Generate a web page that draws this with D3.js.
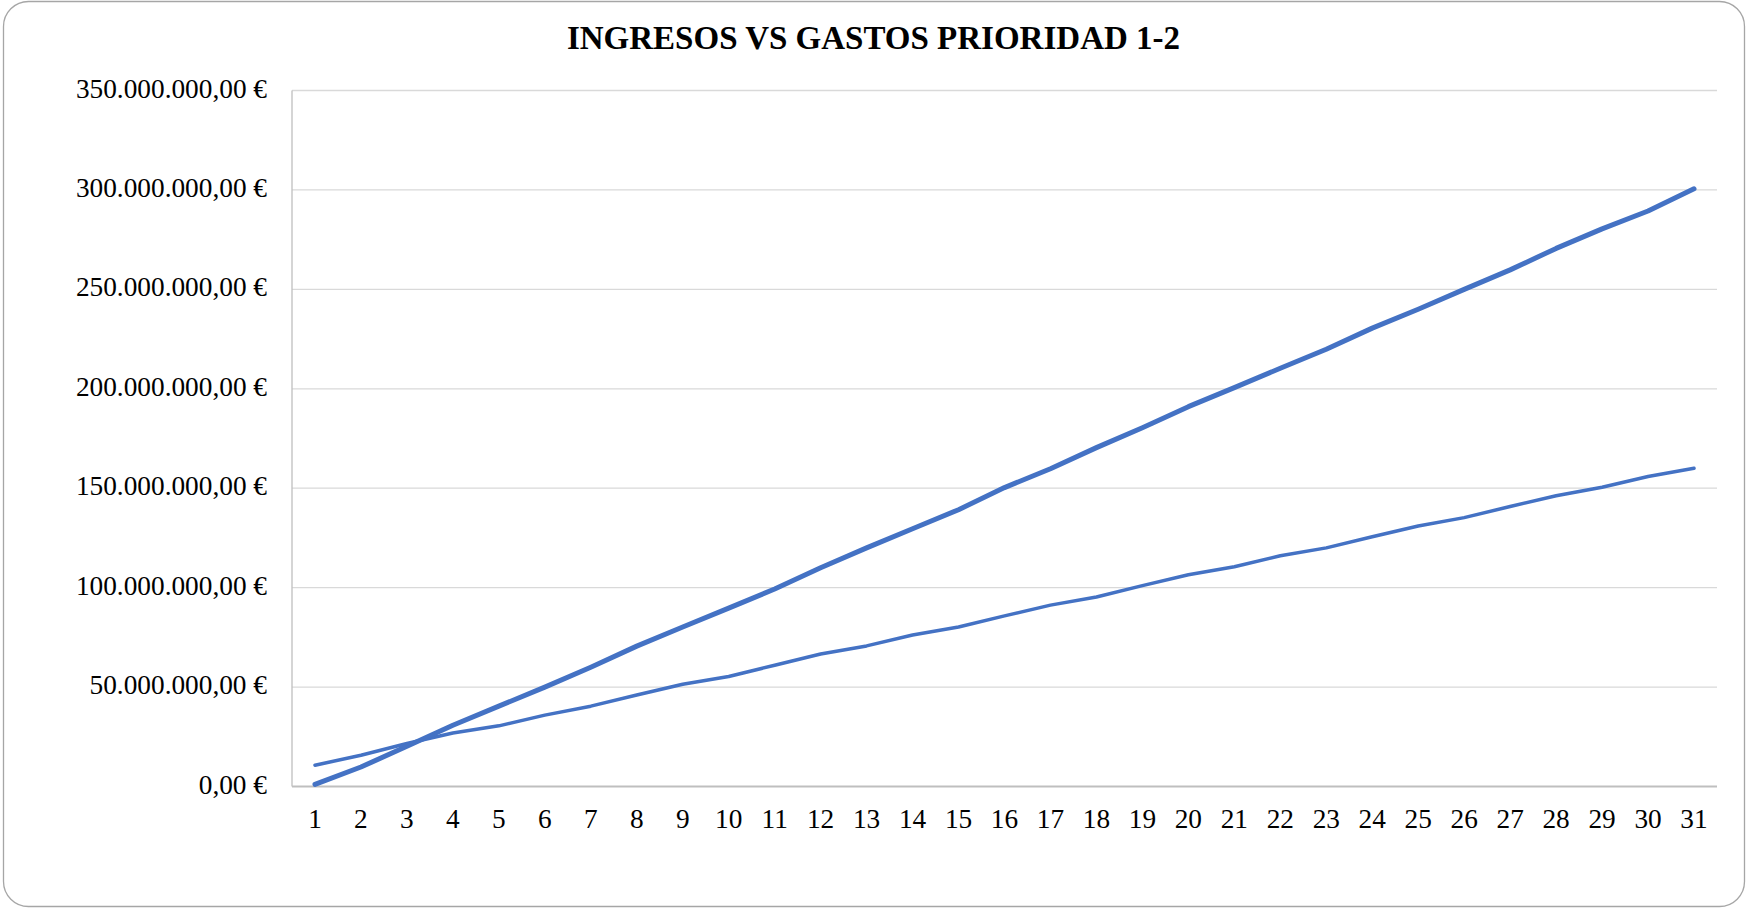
<!DOCTYPE html>
<html>
<head>
<meta charset="utf-8">
<title>Ingresos vs Gastos Prioridad 1-2</title>
<script src="https://d3js.org/d3.v7.min.js"></script>
<style>
    body { margin: 0; background: #fff; }
    svg { display: block; font-family: "Liberation Serif", "Times New Roman", serif; }
</style>
</head>
<body>
<svg width="1747" height="908"></svg>
<script>
    // periodos 1..31
    const periodos = d3.range(1, 32);

    // serie gruesa (sube ~10M por periodo)
    const ingresos = [1.1, 9.8, 20.2, 30.8, 40.4, 50.0, 60.0, 70.6, 80.2, 89.7, 99.3,
        110.0, 120.0, 129.6, 139.2, 150.3, 159.8, 170.4, 180.4, 191.0, 200.6,
        210.3, 219.9, 230.5, 240.0, 250.0, 259.8, 270.6, 280.4, 289.4, 300.6];

    // serie fina
    const gastos = [10.7, 15.7, 21.6, 26.9, 30.5, 35.9, 40.4, 46.0, 51.4, 55.3, 61.0,
        66.6, 70.7, 76.2, 80.2, 85.8, 91.2, 95.3, 101.0, 106.5, 110.5,
        116.0, 120.0, 125.6, 131.0, 135.2, 140.8, 146.2, 150.5, 155.9, 160.0];

    const yTicks = d3.range(0, 351, 50);
    const titulo = "INGRESOS VS GASTOS PRIORIDAD 1-2";

    const svg = d3.select("svg");
    const W = 1747, H = 908;
    const m = { left: 292, right: 1717, top: 90.5, bottom: 786.5 };

    // marco redondeado
    svg.append("rect")
        .attr("x", 3.5).attr("y", 1.5)
        .attr("width", W - 6).attr("height", H - 3)
        .attr("rx", 25).attr("ry", 25)
        .attr("fill", "#fff")
        .attr("stroke", "#a6a6a6")
        .attr("stroke-width", 1.3);

    const x = d3.scalePoint()
        .domain(periodos)
        .range([m.left, m.right])
        .padding(0.5);

    const y = d3.scaleLinear()
        .domain([0, 350])
        .range([m.bottom, m.top]);

    const fmt = v => d3.format(",.2f")(v * 1e6).replace(/,/g, "#").replace(".", ",").replace(/#/g, ".") + " €";

    // lineas de cuadricula
    svg.append("g")
        .selectAll("line")
        .data(yTicks.filter(d => d > 0))
        .join("line")
        .attr("x1", m.left).attr("x2", m.right)
        .attr("y1", d => y(d)).attr("y2", d => y(d))
        .attr("stroke", "#d9d9d9")
        .attr("stroke-width", 1.3);

    // eje vertical izquierdo
    svg.append("line")
        .attr("x1", m.left).attr("x2", m.left)
        .attr("y1", m.top).attr("y2", m.bottom)
        .attr("stroke", "#bfbfbf")
        .attr("stroke-width", 1.3);

    // eje horizontal
    svg.append("line")
        .attr("x1", m.left).attr("x2", m.right)
        .attr("y1", y(0)).attr("y2", y(0))
        .attr("stroke", "#bfbfbf")
        .attr("stroke-width", 1.8);

    // etiquetas eje y
    svg.append("g")
        .selectAll("text")
        .data(yTicks)
        .join("text")
        .attr("x", 267)
        .attr("y", d => y(d) + 7)
        .attr("text-anchor", "end")
        .attr("font-size", 27.3)
        .attr("fill", "#000")
        .text(d => fmt(d));

    // etiquetas eje x
    svg.append("g")
        .selectAll("text")
        .data(periodos)
        .join("text")
        .attr("x", d => x(d))
        .attr("y", 828)
        .attr("text-anchor", "middle")
        .attr("font-size", 27.3)
        .attr("fill", "#000")
        .text(d => d);

    const line = d3.line()
        .x((d, i) => x(periodos[i]))
        .y(d => y(d));

    svg.append("path")
        .datum(gastos)
        .attr("d", line)
        .attr("fill", "none")
        .attr("stroke", "#4472c4")
        .attr("stroke-width", 3.5)
        .attr("stroke-linecap", "round")
        .attr("stroke-linejoin", "round");

    svg.append("path")
        .datum(ingresos)
        .attr("d", line)
        .attr("fill", "none")
        .attr("stroke", "#4472c4")
        .attr("stroke-width", 5)
        .attr("stroke-linecap", "round")
        .attr("stroke-linejoin", "round");

    // titulo
    svg.append("text")
        .attr("x", W / 2)
        .attr("y", 49)
        .attr("text-anchor", "middle")
        .attr("font-size", 33)
        .attr("font-weight", "bold")
        .attr("fill", "#000")
        .text(titulo);
</script>
</body>
</html>
